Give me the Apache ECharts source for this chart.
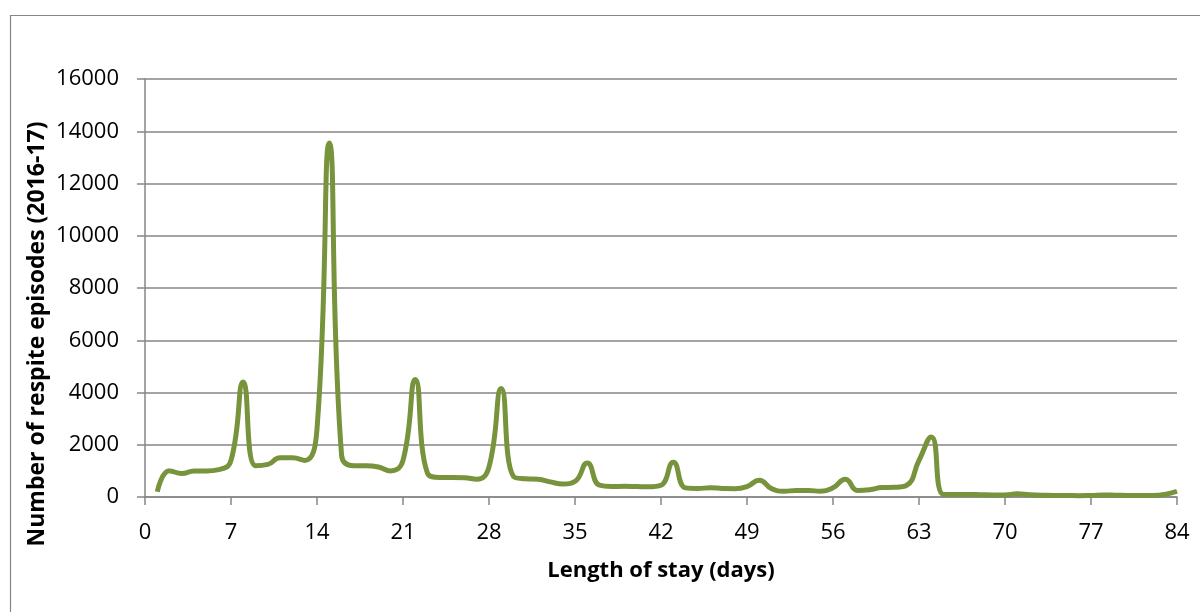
<!DOCTYPE html>
<html>
<head>
<meta charset="utf-8">
<script src="https://cdn.jsdelivr.net/npm/echarts@6/dist/echarts.min.js"></script>
<style>
html,body{margin:0;padding:0;background:#fff;}
#chart{width:1200px;height:612px;}
</style>
</head>
<body>
<div id="chart"></div>
<script>
const days = [1,2,3,4,5,6,7,8,9,10,11,12,13,14,15,16,17,18,19,20,21,22,23,24,25,26,27,28,29,30,31,32,33,34,35,36,37,38,39,40,41,42,43,44,45,46,47,48,49,50,51,52,53,54,55,56,57,58,59,60,61,62,63,64,65,66,67,68,69,70,71,72,73,74,75,76,77,78,79,80,81,82,83,84];
const episodes = [200,1000,900,1000,1000,1050,1400,4400,1200,1250,1500,1500,1400,2600,13550,1600,1200,1200,1150,1000,1400,4500,900,750,750,740,680,1150,4150,780,700,680,580,500,600,1300,450,400,410,400,390,450,1330,350,330,350,330,320,400,640,320,220,250,250,220,350,680,250,280,360,370,450,1400,2300,100,100,100,90,80,80,120,90,70,60,60,50,60,80,70,60,60,60,100,220];
const xTicks = [0,7,14,21,28,35,42,49,56,63,70,77,84];
const yTicks = [0,2000,4000,6000,8000,10000,12000,14000,16000];
const xTitle = 'Length of stay (days)';
const yTitle = 'Number of respite episodes (2016-17)';

const gray = '#868686';
const FONT = '"Open Sans", "Noto Sans", sans-serif';
const chart = echarts.init(document.getElementById('chart'));
chart.setOption({
  animation: false,
  backgroundColor: '#fff',
  grid: {left: 145, right: 23, top: 79, bottom: 115, containLabel: false},
  graphic: [
    {type: 'rect', shape: {x: 10.5, y: 15.5, width: 1300, height: 800}, style: {fill: 'none', stroke: gray, lineWidth: 1.2}, silent: true},
    {type: 'text', x: 37, y: 334, rotation: Math.PI / 2,
     style: {text: yTitle, font: 'bold 23px ' + FONT, fill: '#000', textAlign: 'center', textVerticalAlign: 'middle'}}
  ],
  xAxis: {
    type: 'value', min: xTicks[0], max: xTicks[xTicks.length - 1], interval: 7,
    name: xTitle, nameLocation: 'middle', nameGap: 63,
    nameTextStyle: {fontFamily: FONT, fontWeight: 'bold', fontSize: 22, color: '#000'},
    axisLine: {show: true, lineStyle: {color: gray, width: 1.5}},
    axisTick: {show: true, length: 8, lineStyle: {color: gray, width: 1.5}},
    axisLabel: {fontFamily: FONT, fontSize: 22, color: '#000', margin: 25},
    splitLine: {show: false}
  },
  yAxis: {
    type: 'value', min: yTicks[0], max: yTicks[yTicks.length - 1], interval: 2000,
    axisLine: {show: true, lineStyle: {color: gray, width: 1.5}},
    axisTick: {show: true, length: 8, lineStyle: {color: gray, width: 1.5}},
    axisLabel: {fontFamily: FONT, fontSize: 22, color: '#000', margin: 26, formatter: v => String(v)},
    splitLine: {show: true, lineStyle: {color: gray, width: 1.5}}
  },
  series: [{
    type: 'line',
    data: days.map((d, i) => [d, episodes[i]]),
    smooth: 0.5,
    showSymbol: false,
    lineStyle: {color: '#77933C', width: 5},
    itemStyle: {color: '#77933C'}
  }]
});
</script>
</body>
</html>
